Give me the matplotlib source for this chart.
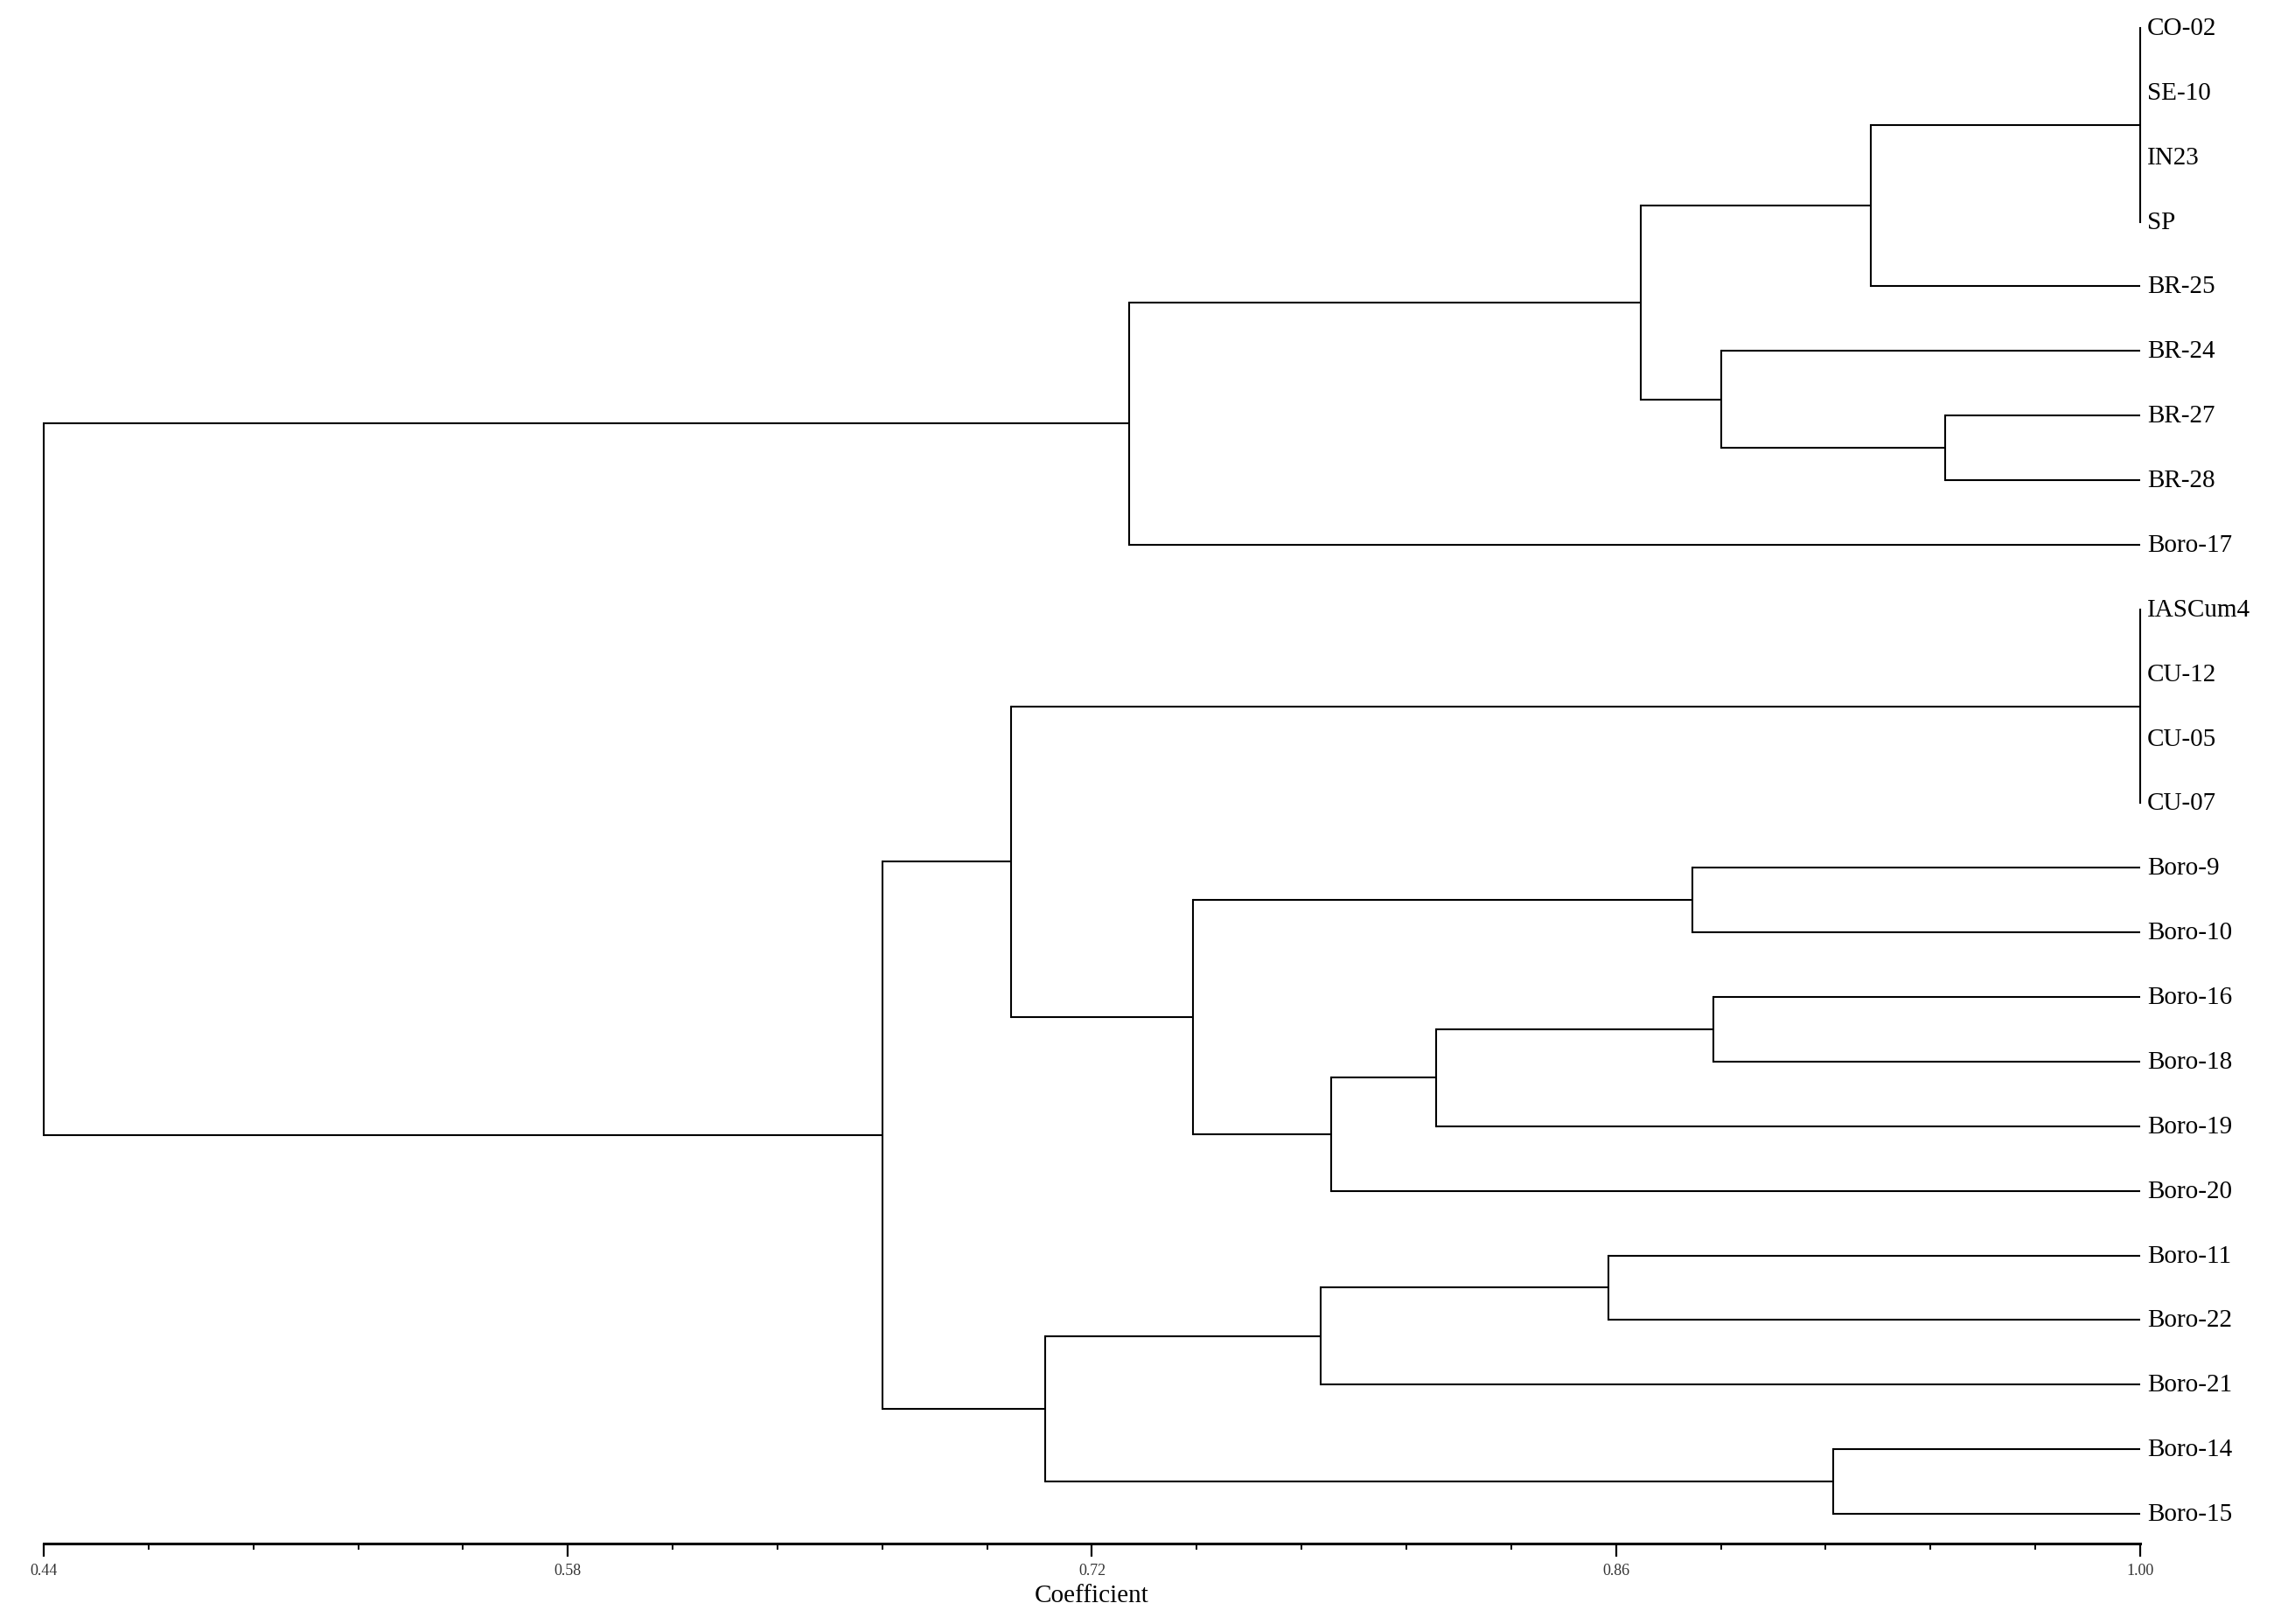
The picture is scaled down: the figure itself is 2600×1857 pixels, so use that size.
import matplotlib
matplotlib.use("Agg")
import matplotlib.pyplot as plt
from matplotlib.ticker import FixedLocator
import matplotlib.transforms as mtransforms

# ---------------- data ----------------
leaf_labels = ["CO-02", "SE-10", "IN23", "SP", "BR-25", "BR-24", "BR-27", "BR-28",
               "Boro-17", "IASCum4", "CU-12", "CU-05", "CU-07", "Boro-9", "Boro-10",
               "Boro-16", "Boro-18", "Boro-19", "Boro-20", "Boro-11", "Boro-22",
               "Boro-21", "Boro-14", "Boro-15"]
leaf_height = 1.00

# clusters numbered after the leaves (24, 25, ...)
merge_children = [
    [0, 1, 2, 3],      # 24
    [24, 4],           # 25
    [6, 7],            # 26
    [5, 26],           # 27
    [25, 27],          # 28
    [28, 8],           # 29
    [9, 10, 11, 12],   # 30
    [13, 14],          # 31
    [15, 16],          # 32
    [32, 17],          # 33
    [33, 18],          # 34
    [31, 34],          # 35
    [30, 35],          # 36
    [19, 20],          # 37
    [37, 21],          # 38
    [22, 23],          # 39
    [38, 39],          # 40
    [36, 40],          # 41
    [29, 41],          # 42
]
merge_heights = [1.00, 0.928, 0.948, 0.888, 0.8665, 0.730,
                 1.00, 0.8805, 0.886, 0.812, 0.784, 0.747, 0.6985,
                 0.858, 0.781, 0.918, 0.7075, 0.664, 0.44]

major_ticks = [0.44, 0.58, 0.72, 0.86, 1.00]
tick_labels = ["0.44", "0.58", "0.72", "0.86", "1.00"]
minor_ticks = [0.468, 0.496, 0.524, 0.552, 0.608, 0.636, 0.664, 0.692,
               0.748, 0.776, 0.804, 0.832, 0.888, 0.916, 0.944, 0.972]
x_label = "Coefficient"

# ---------------- layout ----------------
W, H = 2600, 1858
DPI = 100
fig = plt.figure(figsize=(W / DPI, H / DPI), dpi=DPI)

left_px, right_px = 50, 2447
top_px, axis_px = 20, 1766
leaf0_px, leafN_px = 33, 1732
n = len(leaf_labels)
step = (leafN_px - leaf0_px) / (n - 1)
ymax = (axis_px - leaf0_px) / step
ymin = (top_px - leaf0_px) / step

ax = fig.add_axes([left_px / W, 1 - axis_px / H,
                   (right_px - left_px) / W, (axis_px - top_px) / H])
ax.set_xlim(0.44, 1.00)
ax.set_ylim(ymax, ymin)

serif = ["Liberation Serif", "DejaVu Serif"]
lw = 1.5

# node positions
xpos = {i: leaf_height for i in range(n)}
ypos = {i: float(i) for i in range(n)}
for k, (ch, h) in enumerate(zip(merge_children, merge_heights)):
    cid = n + k
    ys = [ypos[c] for c in ch]
    for c in ch:
        ax.plot([xpos[c], h], [ypos[c], ypos[c]], color="black", lw=lw,
                solid_capstyle="butt", clip_on=False)
    ax.plot([h, h], [min(ys), max(ys)], color="black", lw=lw,
            solid_capstyle="projecting", clip_on=False)
    xpos[cid] = h
    ypos[cid] = (min(ys) + max(ys)) / 2

offset = mtransforms.ScaledTranslation(8 / DPI, 0, fig.dpi_scale_trans)
for i, lab in enumerate(leaf_labels):
    ax.text(leaf_height, i, lab, transform=ax.transData + offset,
            ha="left", va="center", fontsize=21, family=serif, color="black",
            clip_on=False)

for s in ["top", "left", "right"]:
    ax.spines[s].set_visible(False)
ax.spines["bottom"].set_linewidth(2.2)
ax.set_yticks([])
ax.xaxis.set_major_locator(FixedLocator(major_ticks))
ax.xaxis.set_minor_locator(FixedLocator(minor_ticks))
ax.set_xticklabels(tick_labels, fontsize=13, family=serif, color="#333333")
ax.tick_params(axis="x", which="major", direction="out", length=11, width=1.6, pad=5)
ax.tick_params(axis="x", which="minor", direction="out", length=5, width=1.4)
ax.set_xlabel(x_label, fontsize=21, family=serif, labelpad=5)

fig.savefig("out.png", dpi=DPI, facecolor="white")
